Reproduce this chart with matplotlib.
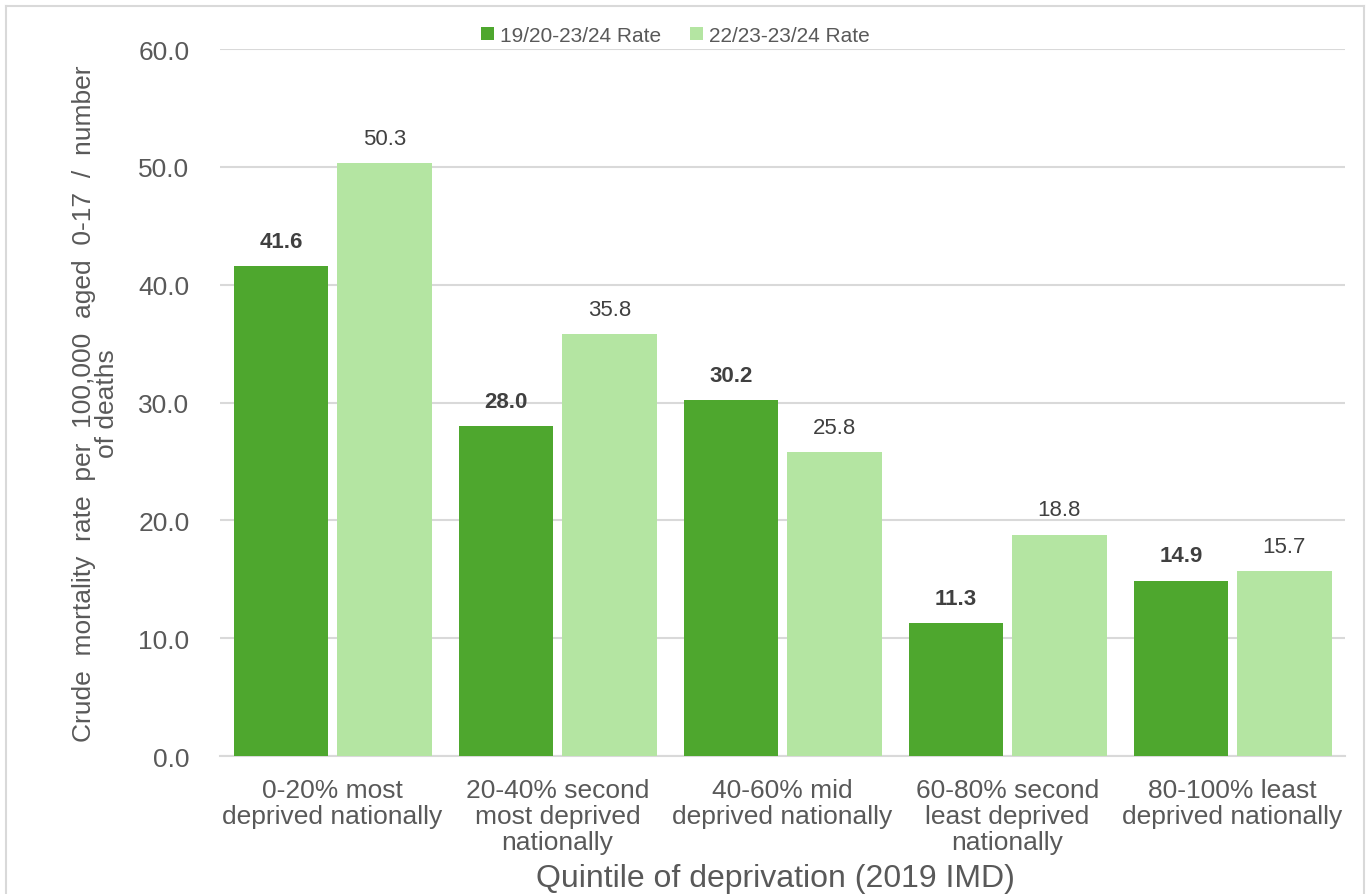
import numpy as np
import matplotlib.pyplot as plt
from matplotlib.lines import Line2D

plt.rcParams["font.family"] = ["Liberation Sans", "DejaVu Sans"]

# ---------- data ----------
categories = [
    "0-20% most\ndeprived nationally",
    "20-40% second\nmost deprived\nnationally",
    "40-60% mid\ndeprived nationally",
    "60-80% second\nleast deprived\nnationally",
    "80-100% least\ndeprived nationally",
]
series_names = ["19/20-23/24 Rate", "22/23-23/24 Rate"]
rate_1920 = [41.6, 28.0, 30.2, 11.3, 14.9]
rate_2223 = [50.3, 35.8, 25.8, 18.8, 15.7]
yticks = [0, 10, 20, 30, 40, 50, 60]

DARK = "#4EA72E"
LIGHT = "#B4E5A2"
TXT = "#595959"
GRID = "#D9D9D9"

fig = plt.figure(figsize=(13.67, 8.95), dpi=100)
ax = fig.add_axes([0.161, 0.154, 0.823, 0.790])

x = np.arange(len(categories))
w = 0.42
off = 0.23
b1 = ax.bar(x - off, rate_1920, width=w, color=DARK, label=series_names[0], zorder=3)
b2 = ax.bar(x + off, rate_2223, width=w, color=LIGHT, label=series_names[1], zorder=3)

for rect, v in zip(b1, rate_1920):
    ax.text(rect.get_x() + rect.get_width() / 2, v + 1.2, f"{v:.1f}",
            ha="center", va="bottom", fontsize=16, fontweight="bold", color="#404040")
for rect, v in zip(b2, rate_2223):
    ax.text(rect.get_x() + rect.get_width() / 2, v + 1.2, f"{v:.1f}",
            ha="center", va="bottom", fontsize=16, color="#404040")

ax.set_ylim(0, 60)
ax.set_xlim(-0.5, len(categories) - 0.5)
ax.set_yticks(yticks)
ax.set_yticklabels([f"{t:.1f}" for t in yticks])
ax.set_xticks(x)
ax.set_xticklabels(categories, linespacing=1.1)
ax.tick_params(axis="y", length=0, pad=22, labelsize=19, labelcolor=TXT)
ax.tick_params(axis="x", length=0, pad=16, labelsize=19, labelcolor=TXT)

ax.grid(axis="y", color=GRID, linewidth=1.5, zorder=0)
for s in ["top", "right", "left"]:
    ax.spines[s].set_visible(False)
ax.spines["bottom"].set_color(GRID)
ax.spines["bottom"].set_linewidth(1.5)

ax.set_ylabel("Crude  mortality  rate  per  100,000  aged  0-17  /  number\nof deaths",
              fontsize=19, color=TXT, linespacing=0.95)
ax.yaxis.set_label_coords(-0.090, 0.5)
fig.text(0.567, 0.018, "Quintile of deprivation (2019 IMD)", ha="center", va="center",
         fontsize=23, color=TXT)

fig.legend(loc="center", bbox_to_anchor=(0.494, 0.959), ncol=2, frameon=False,
           fontsize=15, labelcolor=TXT, handlelength=0.6, handleheight=0.6,
           handletextpad=0.3, columnspacing=1.4)

# outer chart frame
fx0, fx1, fy1 = 6 / 1367, 1364 / 1367, 1 - 7 / 895
for xs, ys in [([fx0, fx0], [0, fy1]), ([fx0, fx1], [fy1, fy1]), ([fx1, fx1], [fy1, 0])]:
    fig.add_artist(Line2D(xs, ys, transform=fig.transFigure, color=GRID, linewidth=1.5))

fig.savefig("out.png", dpi=100)
